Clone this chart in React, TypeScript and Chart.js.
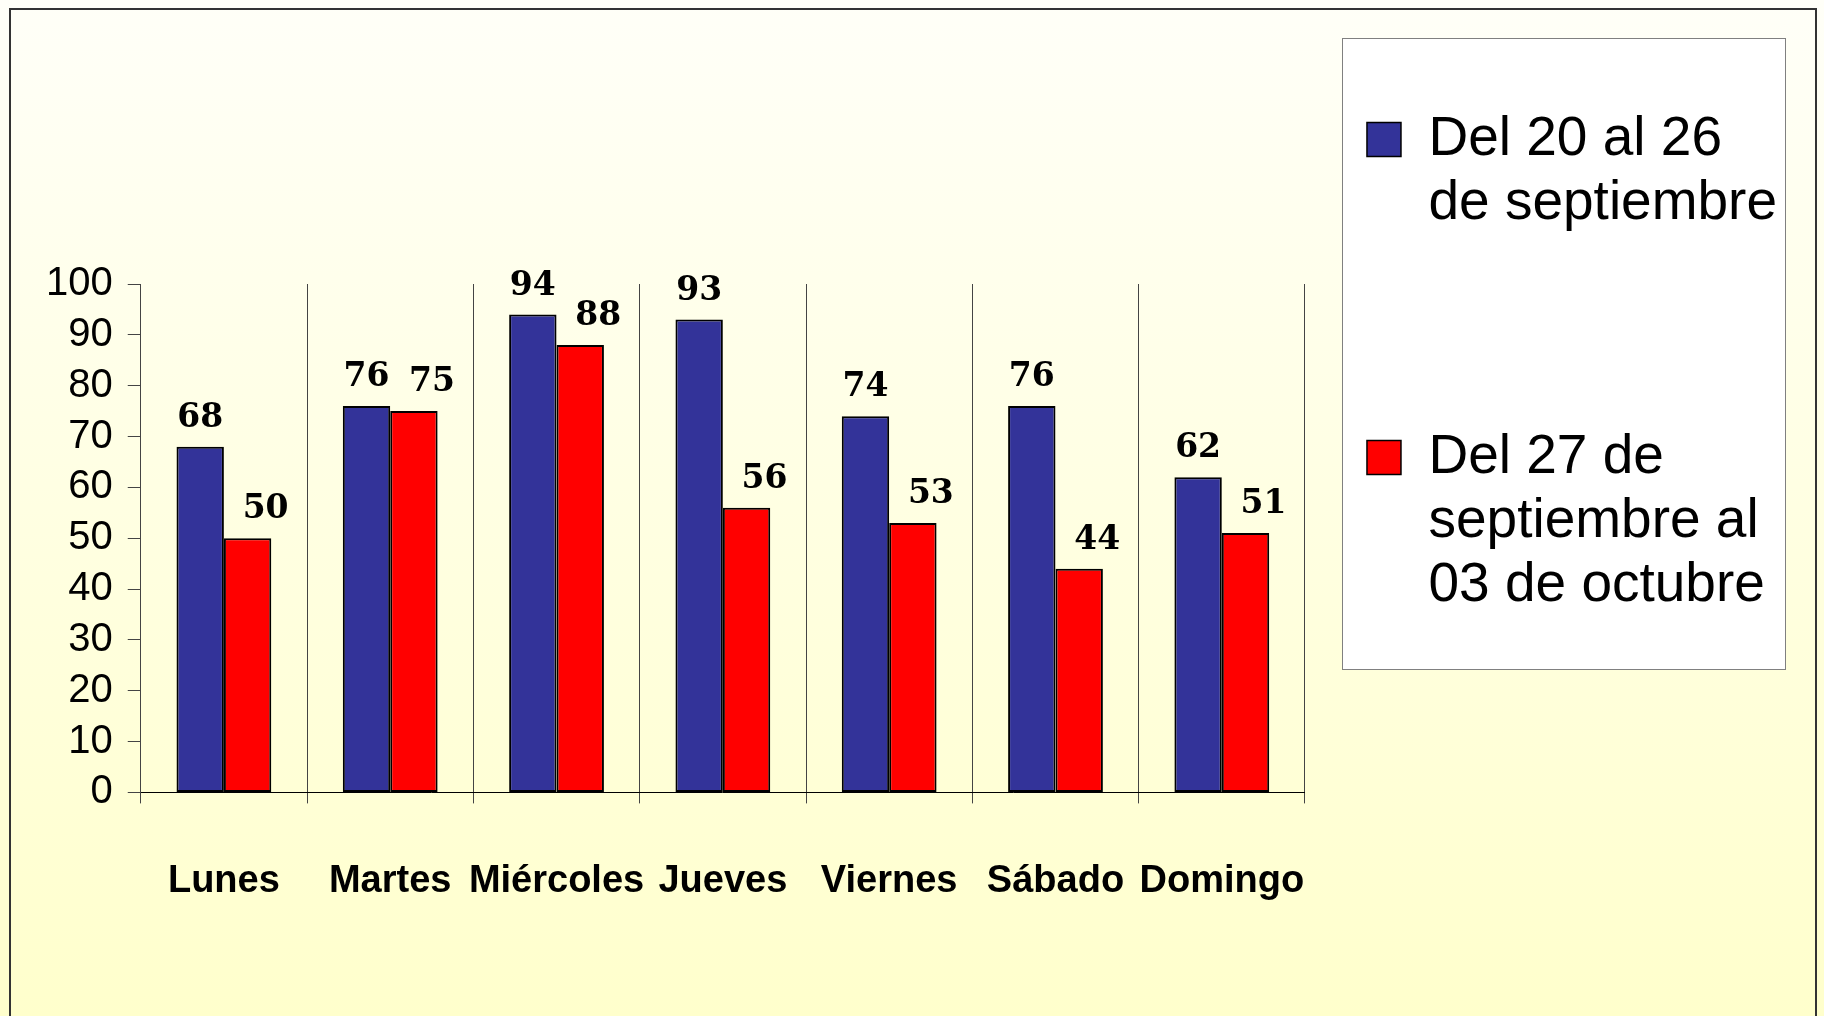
import React, { useEffect, useRef } from 'react';
import { Chart, registerables } from 'chart.js';

Chart.register(...registerables);

const categories = ['Lunes', 'Martes', 'Miércoles', 'Jueves', 'Viernes', 'Sábado', 'Domingo'];
const week1Values = [68, 76, 94, 93, 74, 76, 62];
const week2Values = [50, 75, 88, 56, 53, 44, 51];
const week1Label = ['Del 20 al 26', 'de septiembre'];
const week2Label = ['Del 27 de', 'septiembre al', '03 de octubre'];
const yMin = 0;
const yMax = 100;
const yStep = 10;

const W = 1824;
const H = 1016;

const backgroundPlugin = {
  id: 'slideBackground',
  beforeDraw(chart: any) {
    const { ctx, width, height } = chart;
    ctx.save();
    const g = ctx.createLinearGradient(0, 0, 0, height);
    g.addColorStop(0, '#FFFFF8');
    g.addColorStop(1, '#FFFFCC');
    ctx.fillStyle = g;
    ctx.fillRect(0, 0, width, height);
    ctx.strokeStyle = '#333333';
    ctx.lineWidth = 2;
    ctx.strokeRect(10, 9, 1806, height + 40);
    // legend panel
    ctx.fillStyle = '#FFFFFF';
    ctx.fillRect(1342.5, 38.5, 443, 631);
    ctx.strokeStyle = '#808080';
    ctx.lineWidth = 1;
    ctx.strokeRect(1342.5, 38.5, 443, 631);
    ctx.restore();
  },
};

const valueLabelPlugin = {
  id: 'valueLabels',
  afterDatasetsDraw(chart: any) {
    const { ctx } = chart;
    ctx.save();
    ctx.font = 'bold 33px "DejaVu Serif"';
    ctx.fillStyle = '#000';
    ctx.textAlign = 'center';
    ctx.textBaseline = 'alphabetic';
    chart.data.datasets.forEach((ds: any, di: number) => {
      const meta = chart.getDatasetMeta(di);
      meta.data.forEach((el: any, i: number) => {
        const dx = di === 1 ? 18 : 0;
        ctx.fillText(String(ds.data[i]), el.x + dx, el.y - 20);
      });
    });
    ctx.restore();
  },
};

export default function App() {
  const ref = useRef<HTMLCanvasElement>(null);

  useEffect(() => {
    if (!ref.current) return;
    const chart = new Chart(ref.current, {
      type: 'bar',
      data: {
        labels: categories,
        datasets: [
          {
            label: week1Label.join(' '),
            data: week1Values,
            backgroundColor: '#333399',
            borderColor: '#000000',
            borderWidth: 2,
            borderSkipped: false,
            categoryPercentage: 0.57,
            barPercentage: 1.0,
          },
          {
            label: week2Label.join(' '),
            data: week2Values,
            backgroundColor: '#FF0000',
            borderColor: '#000000',
            borderWidth: 2,
            borderSkipped: false,
            categoryPercentage: 0.57,
            barPercentage: 1.0,
          },
        ],
      },
      options: {
        responsive: false,
        animation: false,
        events: [],
        layout: { padding: { left: 31, right: 37, top: 50, bottom: 57 } },
        plugins: {
          tooltip: { enabled: false },
          title: { display: true, text: '', padding: { top: 222, bottom: 0 }, font: { size: 10 } },
          legend: {
            display: true,
            position: 'right',
            align: 'start',
            maxWidth: 490,
            labels: {
              color: '#000',
              font: { family: 'Liberation Sans', size: 55, lineHeight: 64 / 55 },
              boxWidth: 34,
              boxHeight: 34,
              padding: 62,
              generateLabels: (c: any) =>
                c.data.datasets.map((ds: any, i: number) => ({
                  text: i === 0 ? [...week1Label, '', ''] : week2Label,
                  fillStyle: ds.backgroundColor,
                  strokeStyle: '#000000',
                  lineWidth: 1.5,
                  hidden: false,
                  datasetIndex: i,
                })),
            },
          },
        },
        scales: {
          x: {
            grid: { offset: true, color: '#444444', lineWidth: 1, tickLength: 11, drawOnChartArea: true },
            border: { color: '#000000', width: 1 },
            ticks: {
              color: '#000',
              font: { family: 'Liberation Sans', weight: 'bold', size: 38 },
              padding: 55,
              maxRotation: 0,
              autoSkip: false,
            },
          },
          y: {
            min: yMin,
            max: yMax,
            ticks: {
              stepSize: yStep,
              autoSkip: false,
              color: '#000',
              font: { family: 'Liberation Sans', size: 40 },
              padding: 15,
            },
            grid: { drawOnChartArea: false, tickLength: 13, color: '#444444' },
            border: { color: '#444444', width: 1 },
          },
        },
      },
      plugins: [backgroundPlugin, valueLabelPlugin],
    } as any);
    return () => chart.destroy();
  }, []);

  return (
    <div style={{ position: 'fixed', left: 0, top: 0, width: W, height: H }}>
      <canvas ref={ref} width={W} height={H} style={{ display: 'block', width: W, height: H }} />
    </div>
  );
}
